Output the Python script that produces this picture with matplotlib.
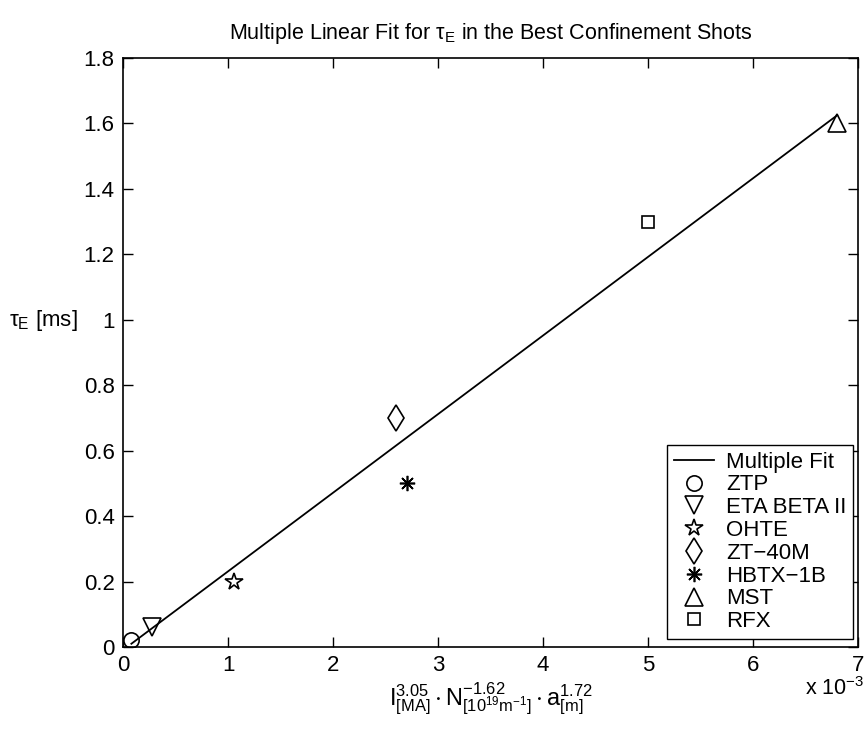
import matplotlib.pyplot as plt
import numpy as np

plt.rcParams['font.family'] = ['Liberation Sans', 'DejaVu Sans']
plt.rcParams['mathtext.fontset'] = 'custom'
plt.rcParams['mathtext.rm'] = 'Liberation Sans'
plt.rcParams['mathtext.it'] = 'Liberation Sans'
plt.rcParams['mathtext.default'] = 'regular'

# machines (x in units of 1e-3)
machines = ['ZTP', 'ETA BETA II', 'OHTE', 'ZT\u221240M', 'HBTX\u22121B', 'MST', 'RFX']
x_vals = [0.08, 0.28, 1.06, 2.60, 2.70, 6.80, 5.00]
tau_vals = [0.02, 0.06, 0.20, 0.70, 0.50, 1.60, 1.30]
markers = ['o', 'v', '*', 'd', (8, 2, 0), '^', 's']
msizes = [11, 13, 13, 13, 11, 13, 9]

# multiple fit line end points
fit_x = [0.08, 6.80]
fit_y = [0.01, 1.625]

xticks = np.arange(0, 8, 1)
yticks = np.arange(0, 1.81, 0.2)
ytick_labels = ['0', '0.2', '0.4', '0.6', '0.8', '1', '1.2', '1.4', '1.6', '1.8']

fig = plt.figure(figsize=(8.66, 7.34), dpi=100)
ax = fig.add_axes([0.142, 0.1185, 0.849, 0.8025])

ax.plot(fit_x, fit_y, 'k-', lw=1.3, label='Multiple Fit')
for xv, yv, m, s, name in zip(x_vals, tau_vals, markers, msizes, machines):
    ax.plot([xv], [yv], linestyle='none', marker=m, markersize=s,
            markerfacecolor='none', markeredgecolor='k', markeredgewidth=1.2,
            label=name)

ax.set_xlim(0, 7)
ax.set_ylim(0, 1.8)
ax.set_xticks(xticks)
ax.set_yticks(yticks)
ax.set_yticklabels(ytick_labels)
ax.tick_params(direction='in', top=True, right=True, length=7, width=1,
               labelsize=16, pad=6)
for sp in ax.spines.values():
    sp.set_linewidth(1.2)

ax.set_title(r'Multiple Linear Fit for $\tau_E$ in the Best Confinement Shots',
             fontsize=15.5, pad=14)
ax.set_ylabel(r'$\tau_E$ [ms]', rotation=0, fontsize=16, ha='left', va='center')
ax.yaxis.set_label_coords(-0.155, 0.555)
ax.set_xlabel(r'$I^{3.05}_{[MA]} \cdot N^{-1.62}_{[10^{19} m^{-1}]} \cdot a^{1.72}_{[m]}$',
              fontsize=17, labelpad=3)
fig.text(0.93, 0.047, r'x 10$^{-3}$', ha='left', va='bottom', fontsize=15.5)

leg = ax.legend(loc='lower right', bbox_to_anchor=(0.993, 0.014), fontsize=16,
                frameon=True, fancybox=False, edgecolor='k', framealpha=1,
                handlelength=1.8, borderaxespad=0, labelspacing=0.08,
                handletextpad=0.55, borderpad=0.3)
leg.get_frame().set_linewidth(1.0)

fig.savefig('out.png', dpi=100)
